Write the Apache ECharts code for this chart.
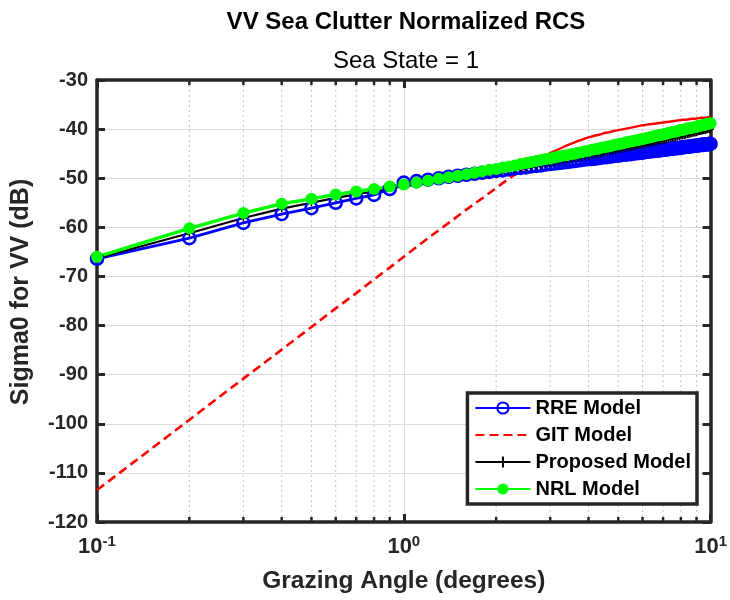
<!DOCTYPE html>
<html>
<head>
<meta charset="utf-8">
<script src="https://cdn.jsdelivr.net/npm/echarts@6/dist/echarts.min.js"></script>
<style>html,body{margin:0;padding:0;background:#fff;}#c{width:730px;height:600px;}</style>
</head>
<body>
<div id="c"></div>
<script>
// Grazing angle (degrees)
const angle = [
 0.1,0.2,0.3,0.4,0.5,0.6,0.7,0.8,0.9,1.0,
 1.1,1.2,1.3,1.4,1.5,1.6,1.7,1.8,1.9,2.0,
 2.1,2.2,2.3,2.4,2.5,2.6,2.7,2.8,2.9,3.0,
 3.1,3.2,3.3,3.4,3.5,3.6,3.7,3.8,3.9,4.0,
 4.1,4.2,4.3,4.4,4.5,4.6,4.7,4.8,4.9,5.0,
 5.1,5.2,5.3,5.4,5.5,5.6,5.7,5.8,5.9,6.0,
 6.1,6.2,6.3,6.4,6.5,6.6,6.7,6.8,6.9,7.0,
 7.1,7.2,7.3,7.4,7.5,7.6,7.7,7.8,7.9,8.0,
 8.1,8.2,8.3,8.4,8.5,8.6,8.7,8.8,8.9,9.0,
 9.1,9.2,9.3,9.4,9.5,9.6,9.7,9.8,9.9,10.0
];
const rreModel = [
 -66.4,-62.2,-59.1,-57.3,-56.1,-55.0,-54.1,-53.4,-52.2,-50.9,
 -50.6,-50.3,-50.0,-49.7,-49.5,-49.3,-49.1,-48.9,-48.7,-48.5,
 -48.4,-48.2,-48.0,-47.9,-47.8,-47.6,-47.5,-47.4,-47.2,-47.1,
 -47.0,-46.9,-46.8,-46.7,-46.6,-46.5,-46.4,-46.3,-46.2,-46.1,
 -46.1,-46.0,-45.9,-45.8,-45.7,-45.7,-45.6,-45.5,-45.4,-45.4,
 -45.3,-45.2,-45.2,-45.1,-45.1,-45.0,-44.9,-44.9,-44.8,-44.8,
 -44.7,-44.6,-44.6,-44.5,-44.5,-44.4,-44.4,-44.3,-44.3,-44.2,
 -44.2,-44.1,-44.1,-44.0,-44.0,-43.9,-43.9,-43.9,-43.8,-43.8,
 -43.7,-43.7,-43.6,-43.6,-43.6,-43.5,-43.5,-43.4,-43.4,-43.4,
 -43.3,-43.3,-43.2,-43.2,-43.2,-43.1,-43.1,-43.1,-43.0,-43.0
];
const gitModel = [
 -113.5,-99.2,-90.8,-84.9,-80.3,-76.5,-73.4,-70.6,-68.2,-66.0,
 -64.0,-62.2,-60.6,-59.1,-57.7,-56.4,-55.2,-54.1,-53.0,-52.0,
 -51.0,-50.1,-49.3,-48.5,-47.8,-47.1,-46.5,-45.9,-45.4,-44.9,
 -44.5,-44.1,-43.7,-43.3,-43.0,-42.7,-42.4,-42.2,-41.9,-41.7,
 -41.5,-41.3,-41.2,-41.0,-40.8,-40.7,-40.6,-40.4,-40.3,-40.2,
 -40.1,-40.0,-39.9,-39.8,-39.7,-39.6,-39.5,-39.4,-39.3,-39.2,
 -39.2,-39.1,-39.0,-39.0,-38.9,-38.9,-38.8,-38.7,-38.7,-38.6,
 -38.6,-38.5,-38.5,-38.4,-38.4,-38.3,-38.3,-38.3,-38.2,-38.2,
 -38.1,-38.1,-38.1,-38.0,-38.0,-38.0,-37.9,-37.9,-37.9,-37.8,
 -37.8,-37.8,-37.7,-37.7,-37.7,-37.6,-37.6,-37.6,-37.5,-37.5
];
const proposedModel = [
 -66.3,-61.2,-58.1,-56.2,-55.0,-54.0,-53.3,-52.7,-52.1,-51.6,
 -51.3,-50.9,-50.6,-50.4,-50.1,-49.8,-49.6,-49.3,-49.1,-48.9,
 -48.6,-48.4,-48.2,-48.0,-47.8,-47.7,-47.5,-47.3,-47.1,-47.0,
 -46.8,-46.6,-46.5,-46.3,-46.2,-46.0,-45.9,-45.8,-45.6,-45.5,
 -45.3,-45.2,-45.1,-45.0,-44.8,-44.7,-44.6,-44.5,-44.4,-44.2,
 -44.1,-44.0,-43.9,-43.8,-43.7,-43.6,-43.5,-43.4,-43.3,-43.2,
 -43.1,-43.0,-42.9,-42.8,-42.7,-42.6,-42.5,-42.4,-42.4,-42.3,
 -42.2,-42.1,-42.0,-41.9,-41.8,-41.8,-41.7,-41.6,-41.5,-41.4,
 -41.4,-41.3,-41.2,-41.1,-41.1,-41.0,-40.9,-40.8,-40.8,-40.7,
 -40.6,-40.5,-40.5,-40.4,-40.3,-40.3,-40.2,-40.1,-40.1,-40.0
];
const nrlModel = [
 -66.0,-60.2,-57.1,-55.2,-54.2,-53.3,-52.7,-52.2,-51.7,-51.3,
 -50.9,-50.5,-50.1,-49.8,-49.5,-49.2,-48.9,-48.6,-48.3,-48.1,
 -47.8,-47.6,-47.4,-47.1,-46.9,-46.7,-46.5,-46.3,-46.1,-46.0,
 -45.8,-45.6,-45.4,-45.3,-45.1,-45.0,-44.8,-44.7,-44.5,-44.4,
 -44.2,-44.1,-44.0,-43.8,-43.7,-43.6,-43.5,-43.3,-43.2,-43.1,
 -43.0,-42.9,-42.7,-42.6,-42.5,-42.4,-42.3,-42.2,-42.1,-42.0,
 -41.9,-41.8,-41.7,-41.6,-41.5,-41.4,-41.3,-41.2,-41.2,-41.1,
 -41.0,-40.9,-40.8,-40.7,-40.6,-40.6,-40.5,-40.4,-40.3,-40.2,
 -40.2,-40.1,-40.0,-39.9,-39.8,-39.8,-39.7,-39.6,-39.6,-39.5,
 -39.4,-39.3,-39.3,-39.2,-39.1,-39.1,-39.0,-38.9,-38.9,-38.8
];
const seriesNames = ['RRE Model','GIT Model','Proposed Model','NRL Model'];
const xMajorTicks = [0.1, 1, 10];
const xTickExponents = ['-1','0','1'];
const xMinorTicks = [0.2,0.3,0.4,0.5,0.6,0.7,0.8,0.9,2,3,4,5,6,7,8,9];
const yMin = -120, yMax = -30, yStep = 10;
const gitSolidFrom = 2.7;

const FONT = '"Liberation Sans", Arial, Helvetica, sans-serif';
const AX = '#262626';

function pairs(xs, ys){ return xs.map((x,i)=>[x, ys[i]]); }
const gitPairs = pairs(angle, gitModel);
const gitDashed = gitPairs.filter(p => p[0] <= gitSolidFrom);
const gitSolid = gitPairs.filter(p => p[0] >= gitSolidFrom);

const chart = echarts.init(document.getElementById('c'), null, {renderer:'canvas'});

function xLabel(v){
  let idx = 0, best = Infinity;
  xMajorTicks.forEach((t,i)=>{ const d = Math.abs(Math.log10(v) - Math.log10(t)); if (d < best){best = d; idx = i;} });
  return '{b|10}{s|' + xTickExponents[idx] + '}';
}

const option = {
  animation: false,
  backgroundColor: '#ffffff',
  title: [
    {text: 'VV Sea Clutter Normalized RCS', left: 406, top: 10, textAlign: 'center', padding: 0,
     textStyle: {fontFamily: FONT, fontSize: 24, fontWeight: 'bold', color: '#000'}},
    {text: 'Sea State = 1', left: 406, top: 49, textAlign: 'center', padding: 0,
     textStyle: {fontFamily: FONT, fontSize: 24, fontWeight: 'normal', color: '#000'}}
  ],
  grid: {left: 97, right: 14, top: 80, bottom: 78, containLabel: false},
  legend: {
    data: [
      {name: seriesNames[0]},
      {name: seriesNames[1], itemStyle: {opacity: 0}},
      {name: seriesNames[2]},
      {name: seriesNames[3]}
    ],
    orient: 'vertical',
    right: 33, top: 393,
    backgroundColor: '#fff',
    borderColor: AX, borderWidth: 3.5,
    padding: [4, 6, 4, 7],
    itemGap: 5,
    itemWidth: 55, itemHeight: 14,
    selectedMode: false,
    textStyle: {fontFamily: FONT, fontSize: 20, fontWeight: 'bold', color: '#000', lineHeight: 22}
  },
  xAxis: [
    {type: 'log', logBase: 10, min: 0.1, max: 10, position: 'bottom',
     name: 'Grazing Angle (degrees)', nameLocation: 'middle', nameGap: 47,
     nameTextStyle: {fontFamily: FONT, fontSize: 24.5, fontWeight: 'bold', color: AX},
     axisLine: {show: true, onZero: false, lineStyle: {color: AX, width: 3.5}},
     axisTick: {show: true, inside: true, length: 8, lineStyle: {color: AX, width: 3}},
     axisLabel: {margin: 12, formatter: xLabel, color: AX,
       rich: {b: {fontFamily: FONT, fontSize: 22, fontWeight: 'bold', color: AX},
              s: {fontFamily: FONT, fontSize: 15, fontWeight: 'bold', color: AX, verticalAlign: 'top', padding: [0,0,10,0]}}},
     splitLine: {show: true, lineStyle: {color: '#dcdcdc', width: 1}},
     minorTick: {show: false}, minorSplitLine: {show: false}},
    {type: 'log', logBase: 10, min: 0.1, max: 10, position: 'top',
     axisLine: {show: true, onZero: false, lineStyle: {color: AX, width: 3.5}},
     axisTick: {show: true, inside: true, length: 8, lineStyle: {color: AX, width: 3}},
     axisLabel: {show: false}, splitLine: {show: false}}
  ],
  yAxis: [
    {type: 'value', min: yMin, max: yMax, interval: yStep, position: 'left',
     name: 'Sigma0 for VV (dB)', nameLocation: 'middle', nameGap: 63,
     nameTextStyle: {fontFamily: FONT, fontSize: 25, fontWeight: 'bold', color: AX, padding: [0,0,0,18]},
     axisLine: {show: true, onZero: false, lineStyle: {color: AX, width: 3.5}},
     axisTick: {show: true, inside: true, length: 8, lineStyle: {color: AX, width: 3}},
     axisLabel: {margin: 9, fontFamily: FONT, fontSize: 20, fontWeight: 'bold', color: AX},
     splitLine: {show: true, lineStyle: {color: '#dcdcdc', width: 1}}},
    {type: 'value', min: yMin, max: yMax, interval: yStep, position: 'right',
     axisLine: {show: true, onZero: false, lineStyle: {color: AX, width: 3.5}},
     axisTick: {show: true, inside: true, length: 8, lineStyle: {color: AX, width: 3}},
     axisLabel: {show: false}, splitLine: {show: false}}
  ],
  series: [
    {type: 'custom', name: 'minorGrid', silent: true, z: 1,
     xAxisIndex: 0, yAxisIndex: 0,
     data: xMinorTicks.map(v => [v, yMin]),
     encode: {x: 0, y: 1},
     renderItem: function(params, api){
       const cs = params.coordSys;
       const x = api.coord([api.value(0), yMin])[0];
       const top = cs.y, bottom = cs.y + cs.height;
       return {type: 'group', children: [
         {type: 'line', shape: {x1: x, y1: top, x2: x, y2: bottom},
          style: {stroke: '#c4c4c4', lineWidth: 1, lineDash: [2, 3]}},
         {type: 'line', shape: {x1: x, y1: bottom, x2: x, y2: bottom - 5},
          style: {stroke: AX, lineWidth: 2.5}},
         {type: 'line', shape: {x1: x, y1: top, x2: x, y2: top + 5},
          style: {stroke: AX, lineWidth: 2.5}}
       ]};
     }},
    {type: 'line', name: seriesNames[0], data: pairs(angle, rreModel),
     symbol: 'circle', symbolSize: 12, showSymbol: true,
     lineStyle: {color: '#0000ff', width: 2.8},
     itemStyle: {color: 'rgba(0,0,0,0)', borderColor: '#0000ff', borderWidth: 2.6},
     z: 2},
    {type: 'line', name: seriesNames[1], data: gitDashed,
     symbol: 'none', showSymbol: false,
     lineStyle: {color: '#ff0000', width: 2.6, type: [9, 5]},
     itemStyle: {color: '#ff0000'}, z: 2},
    {type: 'line', name: 'GIT Model (cont.)', data: gitSolid,
     symbol: 'none', showSymbol: false,
     lineStyle: {color: '#ff0000', width: 2.4, type: 'solid'},
     itemStyle: {color: '#ff0000'}, z: 2},
    {type: 'line', name: seriesNames[2], data: pairs(angle, proposedModel),
     symbol: 'path://M0,5L10,5M5,0L5,10', symbolSize: 7, showSymbol: true,
     lineStyle: {color: '#000000', width: 2.2},
     itemStyle: {color: '#000000', borderColor: '#000000', borderWidth: 1.5},
     z: 2},
    {type: 'line', name: seriesNames[3], data: pairs(angle, nrlModel),
     symbol: 'circle', symbolSize: 12, showSymbol: true,
     lineStyle: {color: '#00ff00', width: 3.4},
     itemStyle: {color: '#00ff00', borderColor: '#00ff00', borderWidth: 0},
     z: 2}
  ]
};
chart.setOption(option);
</script>
</body>
</html>
